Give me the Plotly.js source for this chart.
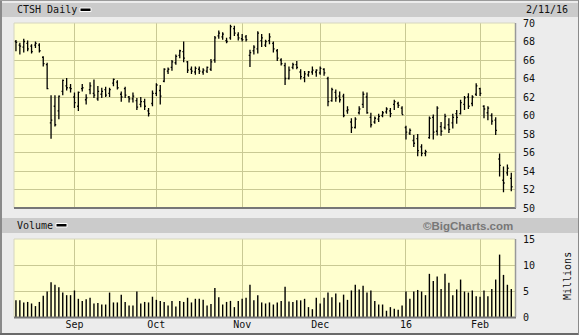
<!DOCTYPE html>
<html>
<head>
<meta charset="utf-8">
<script src="https://cdn.plot.ly/plotly-3.0.1.min.js"></script>
<style>
html,body{margin:0;padding:0;background:#ececec;}
#chart{width:579px;height:335px;}
</style>
</head>
<body>
<div id="chart"></div>
<script>
// Trading days (categories)
const dates = [
"2015-08-11","2015-08-12","2015-08-13","2015-08-14","2015-08-17","2015-08-18","2015-08-19","2015-08-20","2015-08-21","2015-08-24","2015-08-25","2015-08-26","2015-08-27","2015-08-28","2015-08-31",
"2015-09-01","2015-09-02","2015-09-03","2015-09-04","2015-09-08","2015-09-09","2015-09-10","2015-09-11","2015-09-14","2015-09-15","2015-09-16","2015-09-17","2015-09-18","2015-09-21","2015-09-22","2015-09-23","2015-09-24","2015-09-25","2015-09-28","2015-09-29","2015-09-30",
"2015-10-01","2015-10-02","2015-10-05","2015-10-06","2015-10-07","2015-10-08","2015-10-09","2015-10-12","2015-10-13","2015-10-14","2015-10-15","2015-10-16","2015-10-19","2015-10-20","2015-10-21","2015-10-22","2015-10-23","2015-10-26","2015-10-27","2015-10-28","2015-10-29","2015-10-30",
"2015-11-02","2015-11-03","2015-11-04","2015-11-05","2015-11-06","2015-11-09","2015-11-10","2015-11-11","2015-11-12","2015-11-13","2015-11-16","2015-11-17","2015-11-18","2015-11-19","2015-11-20","2015-11-23","2015-11-24","2015-11-25","2015-11-27","2015-11-30",
"2015-12-01","2015-12-02","2015-12-03","2015-12-04","2015-12-07","2015-12-08","2015-12-09","2015-12-10","2015-12-11","2015-12-14","2015-12-15","2015-12-16","2015-12-17","2015-12-18","2015-12-21","2015-12-22","2015-12-23","2015-12-24","2015-12-28","2015-12-29","2015-12-30","2015-12-31",
"2016-01-04","2016-01-05","2016-01-06","2016-01-07","2016-01-08","2016-01-11","2016-01-12","2016-01-13","2016-01-14","2016-01-15","2016-01-19","2016-01-20","2016-01-21","2016-01-22","2016-01-25","2016-01-26","2016-01-27","2016-01-28","2016-01-29",
"2016-02-01","2016-02-02","2016-02-03","2016-02-04","2016-02-05","2016-02-08","2016-02-09","2016-02-10","2016-02-11"
];

const openP = [68.0,67.6,67.4,67.8,67.5,67.6,67.6,66.3,65.5,59.2,61.0,60.5,62.6,63.2,63.0,
62.0,61.0,62.9,61.7,62.8,62.4,61.8,62.3,62.8,62.4,63.5,63.6,62.3,62.9,62.0,61.8,61.6,61.2,61.5,60.5,61.3,
62.4,62.7,63.7,64.8,65.2,65.7,66.5,66.9,65.8,65.0,64.7,65.0,64.7,64.8,65.0,66.0,68.6,68.5,68.1,68.4,69.4,68.7,
68.3,68.5,66.5,67.0,67.2,68.1,67.6,68.1,67.8,67.0,66.0,65.4,64.0,65.2,65.5,64.7,64.1,64.4,64.7,64.7,
64.6,65.0,64.0,61.6,62.5,62.1,62.1,60.5,59.3,58.7,60.3,61.2,62.0,59.8,59.3,59.6,60.0,60.4,60.5,61.2,61.3,60.8,
58.7,58.1,57.3,57.5,56.6,55.9,57.6,59.8,58.3,58.8,58.7,59.0,59.2,60.2,60.2,61.2,62.0,61.3,62.3,
62.9,61.0,60.3,60.0,59.5,55.3,53.0,53.8,53.2];
const highP = [68.15,67.86,68.3,68.1,67.7,68.0,67.8,66.4,65.7,62.2,62.2,62.15,63.9,64.05,63.4,
62.5,62.6,63.4,62.3,63.6,63.9,63.2,63.0,63.1,63.0,64.0,63.8,62.6,63.1,62.1,62.5,61.9,62.0,61.8,60.8,62.7,
63.5,63.3,65.1,65.2,66.0,66.6,67.1,68.0,65.9,65.3,65.3,65.3,65.1,65.3,66.1,68.6,69.2,69.0,68.4,69.8,69.7,69.0,
68.8,68.7,67.1,67.6,69.1,68.8,68.2,68.9,68.0,67.2,66.2,65.7,65.3,65.7,65.9,65.0,64.8,64.8,65.3,65.0,
65.3,65.1,64.2,63.0,62.8,62.6,62.35,61.0,59.7,59.8,61.0,62.6,62.5,60.3,59.9,60.2,60.5,60.9,60.8,61.7,61.5,61.0,
58.9,58.6,57.9,58.0,56.9,56.3,59.9,60.1,61.0,59.3,60.2,59.7,60.2,60.6,61.7,62.1,62.4,62.2,63.5,
63.0,61.1,61.0,60.25,59.8,55.9,54.5,54.7,53.8];
const lowP = [66.95,66.6,66.8,66.95,66.7,67.3,66.8,65.3,62.85,57.5,58.8,59.6,62.2,62.7,62.5,
60.8,60.5,62.6,61.2,62.3,61.9,61.6,61.9,62.0,62.0,63.15,62.8,61.5,61.9,61.4,61.4,60.6,60.9,60.6,59.9,61.0,
62.1,61.2,63.6,64.5,64.85,65.5,66.2,65.75,64.6,64.5,64.4,64.5,64.4,64.6,64.8,65.7,68.3,68.2,67.8,68.2,68.6,68.1,
68.0,68.0,65.25,66.6,66.7,67.4,67.4,67.7,66.8,65.9,65.4,63.3,63.9,65.0,65.0,63.9,63.6,64.2,64.4,64.2,
64.4,64.3,61.0,61.5,61.5,61.4,59.8,60.2,58.1,58.6,60.1,60.8,60.2,58.7,59.1,59.3,59.8,60.2,59.8,60.6,60.8,60.1,
57.4,57.9,56.6,55.6,55.6,55.6,57.5,57.4,57.85,57.8,58.5,58.1,58.6,59.1,60.1,60.6,60.7,61.0,62.1,
62.1,59.7,59.5,59.0,57.9,53.4,51.7,53.5,51.8];
const closeP = [67.9,67.5,68.0,67.2,66.9,67.8,67.0,65.6,62.9,59.5,59.0,62.1,63.8,63.0,62.9,
61.4,62.5,63.0,61.9,63.2,62.2,62.6,62.6,62.2,62.8,63.9,63.0,62.0,62.2,61.8,62.1,60.9,61.5,61.0,60.2,62.4,
63.3,62.1,65.0,65.0,65.8,66.4,67.0,66.2,64.9,64.8,65.1,64.8,64.9,65.2,65.8,68.4,68.9,68.8,68.0,69.6,68.9,68.4,
68.2,68.2,66.8,67.4,68.9,68.4,68.0,68.5,67.2,66.2,65.6,64.0,64.9,65.5,65.2,64.2,64.5,64.7,64.9,64.9,
65.1,64.6,61.5,62.8,61.9,61.7,60.0,60.6,58.7,59.6,60.7,62.3,60.3,59.0,59.7,59.9,60.3,60.7,60.2,61.5,61.1,60.1,
58.2,58.4,57.0,56.2,55.9,56.1,59.7,58.2,60.8,58.3,59.9,58.5,59.8,59.8,61.4,61.9,61.0,62.0,63.2,
62.4,60.7,60.8,59.4,58.4,54.6,52.7,54.3,52.3];
// Volume, millions
const volume = [3.2,3.2,2.8,2.9,2.6,2.1,2.9,4.1,4.9,6.7,6.2,5.7,4.7,4.2,4.2,
5.1,3.5,3.1,3.4,3.7,2.6,2.7,2.4,2.4,4.7,2.8,2.8,4.3,2.9,2.2,2.2,4.9,2.6,2.9,2.8,3.9,
3.3,3.1,2.9,2.2,3.1,2.0,3.1,2.9,3.7,2.8,3.5,3.5,3.3,2.2,2.5,5.6,3.8,2.4,2.9,3.1,1.9,3.1,
3.5,3.7,6.2,3.2,4.2,2.8,2.6,2.8,2.4,2.8,3.1,5.8,3.0,2.9,3.2,3.2,3.5,1.9,1.5,3.7,
2.6,3.7,4.7,3.8,4.5,2.8,4.3,3.3,5.1,6.2,5.3,6.0,4.7,5.1,3.1,2.4,2.4,1.2,1.9,1.6,1.4,2.2,
4.9,3.5,4.9,5.2,4.9,4.2,8.3,6.9,7.8,5.4,8.3,6.6,4.2,5.3,7.2,4.9,4.7,5.1,4.0,
3.9,5.1,4.0,5.4,7.2,12.0,8.1,6.2,5.4];

const monthTickVals = ["2015-09-01","2015-10-01","2015-11-02","2015-12-01","2016-01-04","2016-02-01"];
const monthTickText = ["Sep","Oct","Nov","Dec","16","Feb"];
const priceTicks = [50,52,54,56,58,60,62,64,66,68,70];
const volumeTicks = [0,5,10,15];

const W = 579, H = 335;
const px = v => v / W;
const py = v => 1 - v / H;
const grid = '#c9c994';
const mono = {family: 'DejaVu Sans Mono, monospace', size: 10, color: '#111'};
const xL = 14, xR = 515;

const ohlc = {
  type: 'ohlc', x: dates, open: openP, high: highP, low: lowP, close: closeP,
  xaxis: 'x', yaxis: 'y', tickwidth: 0.32,
  increasing: {line: {color: '#000', width: 1.3}},
  decreasing: {line: {color: '#000', width: 1.3}},
  hoverinfo: 'skip', showlegend: false
};
const vol = {
  type: 'bar', x: dates, y: volume, xaxis: 'x2', yaxis: 'y2',
  marker: {color: '#000', line: {width: 0}}, width: 0.36,
  hoverinfo: 'skip', showlegend: false
};

const axX = {
  type: 'category', domain: [px(xL), px(xR)], range: [-0.5, 127.95],
  tickvals: monthTickVals, ticktext: monthTickText,
  showgrid: true, gridcolor: grid, gridwidth: 1, zeroline: false, showline: false,
  ticks: '', fixedrange: true, tickfont: mono
};

const layout = {
  width: W, height: H,
  margin: {l: 0, r: 0, t: 0, b: 0, pad: 0},
  paper_bgcolor: '#ececec', plot_bgcolor: '#ffffcf',
  showlegend: false,
  xaxis: Object.assign({}, axX, {anchor: 'y', showticklabels: false, rangeslider: {visible: false}}),
  yaxis: {
    domain: [py(208), py(23)], range: [50, 70], side: 'right', anchor: 'x',
    tickvals: priceTicks, showgrid: true, gridcolor: grid, gridwidth: 1,
    zeroline: false, showline: false, ticks: '', tickfont: mono, ticklabelstandoff: 7, fixedrange: true
  },
  xaxis2: Object.assign({}, axX, {anchor: 'y2', showticklabels: true}),
  yaxis2: {
    domain: [py(317), py(239)], range: [0, 15], side: 'right', anchor: 'x2',
    tickvals: volumeTicks, showgrid: true, gridcolor: grid, gridwidth: 1,
    zeroline: false, showline: false, ticks: '', tickfont: mono, ticklabelstandoff: 7, fixedrange: true
  },
  shapes: [
    {type: 'rect', xref: 'paper', yref: 'paper', x0: px(2), x1: 1, y0: py(17), y1: py(3), fillcolor: '#cbcbcb', line: {width: 0}, layer: 'below'},
    {type: 'rect', xref: 'paper', yref: 'paper', x0: px(2), x1: 1, y0: py(233), y1: py(218), fillcolor: '#cbcbcb', line: {width: 0}, layer: 'below'},
    {type: 'rect', xref: 'paper', yref: 'paper', x0: px(80), x1: px(91), y0: py(11.5), y1: py(8), fillcolor: '#000', line: {color: '#fff', width: 1}},
    {type: 'rect', xref: 'paper', yref: 'paper', x0: px(56), x1: px(67), y0: py(227), y1: py(223.5), fillcolor: '#000', line: {color: '#fff', width: 1}},
    {type: 'line', xref: 'paper', yref: 'paper', x0: px(xL), x1: px(xR), y0: py(23), y1: py(23), line: {color: '#d6d6c0', width: 1}},
    {type: 'line', xref: 'paper', yref: 'paper', x0: px(xL), x1: px(xL), y0: py(23), y1: py(208), line: {color: '#d6d6c0', width: 1}},
    {type: 'line', xref: 'paper', yref: 'paper', x0: px(xL), x1: px(xR + 1), y0: py(208), y1: py(208), line: {color: '#777', width: 2}},
    {type: 'line', xref: 'paper', yref: 'paper', x0: px(xR + 0.5), x1: px(xR + 0.5), y0: py(23), y1: py(208), line: {color: '#999', width: 1.5}},
    {type: 'line', xref: 'paper', yref: 'paper', x0: px(xL), x1: px(xR), y0: py(239), y1: py(239), line: {color: '#d6d6c0', width: 1}},
    {type: 'line', xref: 'paper', yref: 'paper', x0: px(xL), x1: px(xL), y0: py(239), y1: py(317), line: {color: '#d6d6c0', width: 1}},
    {type: 'line', xref: 'paper', yref: 'paper', x0: px(xL), x1: px(xR + 1), y0: py(317.5), y1: py(317.5), line: {color: '#777', width: 2}},
    {type: 'line', xref: 'paper', yref: 'paper', x0: px(xR + 0.5), x1: px(xR + 0.5), y0: py(239), y1: py(317), line: {color: '#999', width: 1.5}},
    {type: 'line', xref: 'paper', yref: 'paper', x0: px(1), x1: px(1), y0: 0, y1: 1, line: {color: '#8a8a8a', width: 2}},
    {type: 'line', xref: 'paper', yref: 'paper', x0: 0, x1: 1, y0: py(0.5), y1: py(0.5), line: {color: '#9a9a9a', width: 1}},
    {type: 'line', xref: 'paper', yref: 'paper', x0: 0, x1: 1, y0: py(334), y1: py(334), line: {color: '#6a6a6a', width: 2}},
    {type: 'line', xref: 'paper', yref: 'paper', x0: px(578.5), x1: px(578.5), y0: 0, y1: 1, line: {color: '#8a8a8a', width: 1}}
  ],
  annotations: [
    {xref: 'paper', yref: 'paper', x: px(15), y: py(10), xanchor: 'left', yanchor: 'middle', text: 'CTSH Daily', showarrow: false, font: mono},
    {xref: 'paper', yref: 'paper', x: px(524), y: py(10), xanchor: 'left', yanchor: 'middle', text: '2/11/16', showarrow: false, font: mono},
    {xref: 'paper', yref: 'paper', x: px(15), y: py(225.5), xanchor: 'left', yanchor: 'middle', text: 'Volume', showarrow: false, font: mono},
    {xref: 'paper', yref: 'paper', x: px(515), y: py(225.5), xanchor: 'right', yanchor: 'middle', text: '©BigCharts.com', showarrow: false,
     font: {family: 'Liberation Sans, Arial, sans-serif', size: 11.5, color: '#777', weight: 'bold'}},
    {xref: 'paper', yref: 'paper', x: px(567), y: py(276), xanchor: 'center', yanchor: 'middle', text: 'Millions', textangle: -90, showarrow: false, font: mono}
  ]
};

Plotly.newPlot('chart', [ohlc, vol], layout, {staticPlot: true, displayModeBar: false});
</script>
</body>
</html>
